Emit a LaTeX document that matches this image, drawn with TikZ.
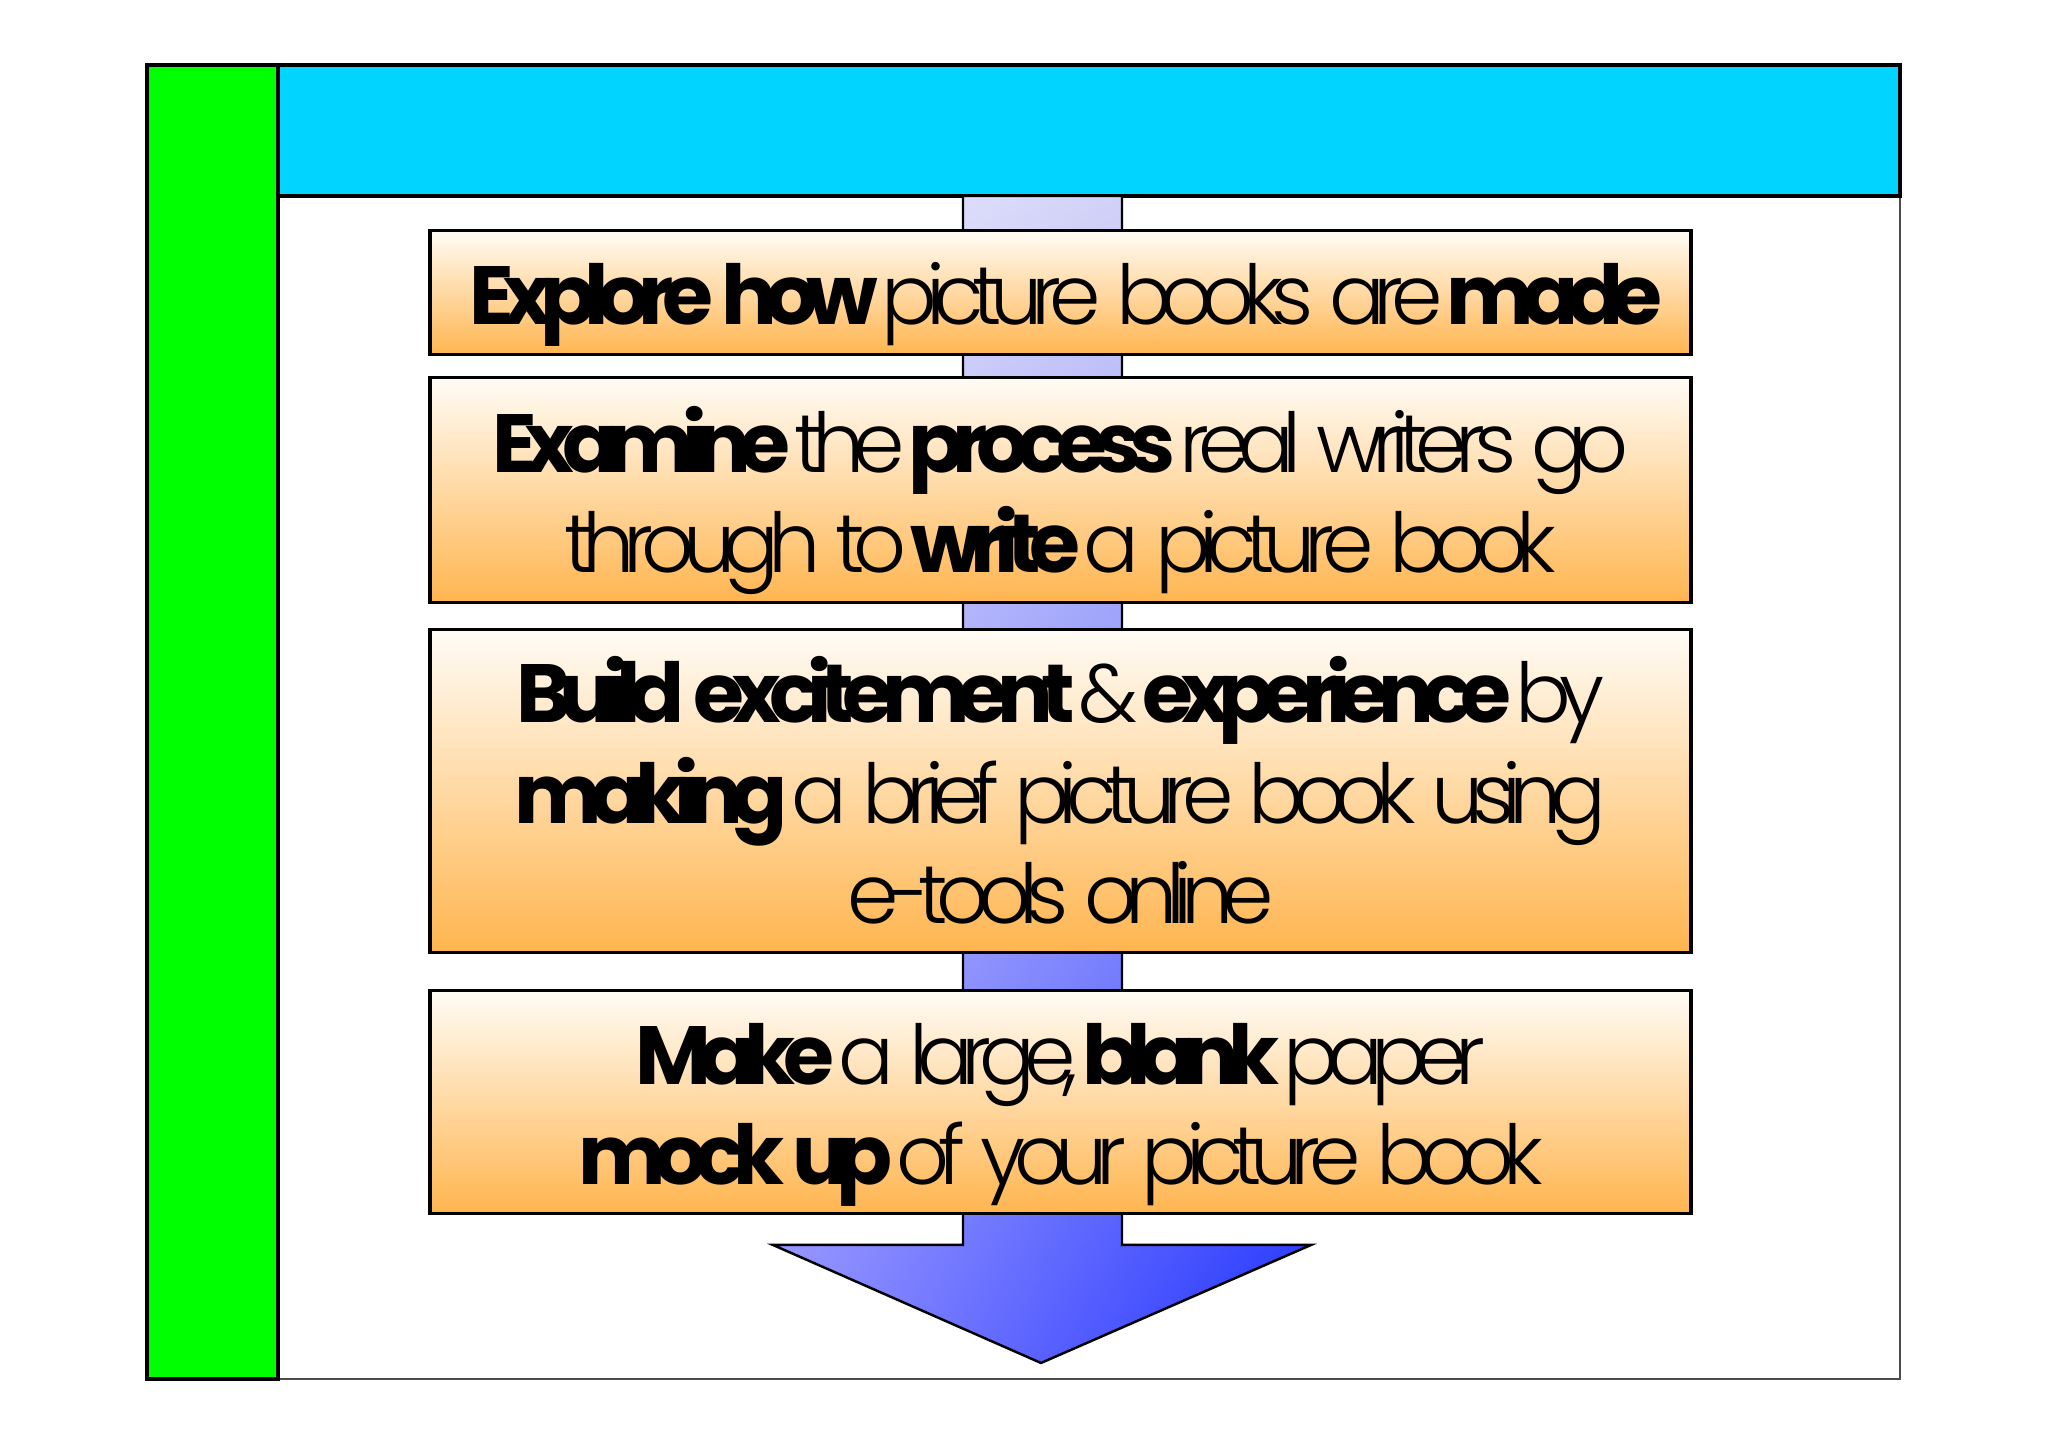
\documentclass[tikz,border=0pt]{standalone}
\usepackage{fontspec}
\setmainfont{Poppins}[UprightFont=* Light, BoldFont=* Bold, LetterSpace=-14, WordSpace=1.4]
\usepackage{xcolor}
\usepackage{tikz}
\usetikzlibrary{shadings}
\usetikzlibrary{positioning}
\usetikzlibrary{calc}
\definecolor{sidegreen}{HTML}{00FF00}
\definecolor{headcyan}{HTML}{00D4FF}
\definecolor{boxtop}{HTML}{FFFCF6}
\definecolor{boxbot}{HTML}{FFB54F}
\definecolor{flowUL}{HTML}{EAEAFB}
\definecolor{flowUR}{HTML}{C4C4F6}
\definecolor{flowLL}{HTML}{9090FF}
\definecolor{flowLR}{HTML}{1E30FF}
\newcommand{\steptext}[1]{\raisebox{-0.12cm}[\height][\depth]{\begin{tabular}{@{}c@{}}#1\end{tabular}}}
\tikzset{stepbox/.style={draw, line width=0.9pt, minimum width=12.61cm, anchor=north, top color=boxtop, bottom color=boxbot, inner sep=0pt, font=\fontsize{23.5}{28.5}\selectfont}}

\begin{document}
\begin{tikzpicture}[>=stealth]
		\useasboundingbox (0,0) rectangle (20.48,14.47);
		%coordinates
		\coordinate (FrLL)   at (1.47,0.68);
		\coordinate (FrUR)   at (19.00,13.82);
		\coordinate (GrUR)   at (2.78,13.82);
		\coordinate (CyLL)   at (2.78,12.51);
		\coordinate (TopS)   at (10.605,12.18);
		\coordinate (TopE)   at (10.605,10.71);
		\coordinate (TopB)   at (10.605,8.19);
		\coordinate (TopM)   at (10.605,4.58);
		\coordinate (tip)    at (10.41,0.84);
		
		%frame
		\draw[line width=0.8pt, black!70, fill=white] (FrLL) rectangle (FrUR);
		\draw[line width=1.4pt, fill=sidegreen] (FrLL) rectangle (GrUR);
		\draw[line width=1.4pt, fill=headcyan] (CyLL) rectangle (FrUR);
		
		%flow arrow behind the boxes
		\draw[line width=0.7pt, upper left=flowUL, upper right=flowUR, lower left=flowLL, lower right=flowLR]
			(9.63,12.51) -- (11.22,12.51) -- (11.22,2.02) -- (13.11,2.02) -- (tip) -- (7.73,2.02) -- (9.63,2.02) -- cycle;
		
		%nodes
		\node[stepbox, minimum height=1.24cm] (S) at (TopS) {\steptext{\textbf{Explore how} picture books are \textbf{made}}};
		\node[stepbox, minimum height=2.25cm] (E) at (TopE) {\steptext{\textbf{Examine} the \textbf{process} real writers go\\through to \textbf{write} a picture book}};
		\node[stepbox, minimum height=3.23cm] (B) at (TopB) {\steptext{\textbf{Build excitement} \& \textbf{experience} by\\\textbf{making} a brief picture book using\\e-tools online}};
		\node[stepbox, minimum height=2.23cm] (M) at (TopM) {\steptext{\textbf{Make} a large, \textbf{blank} paper\\\textbf{mock up} of your picture book}};
		\end{tikzpicture}
\end{document}
